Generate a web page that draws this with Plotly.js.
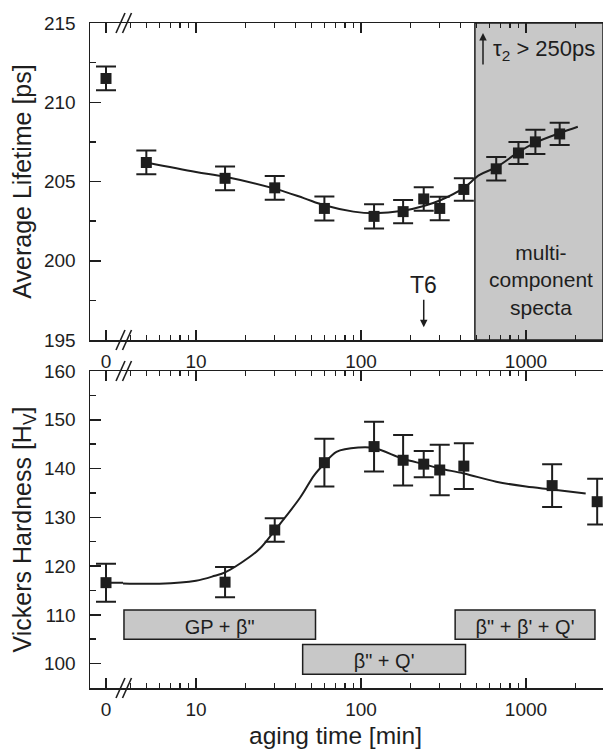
<!DOCTYPE html>
<html><head><meta charset="utf-8">
<script src="https://cdn.plot.ly/plotly-3.0.1.min.js"></script>
<style>html,body{margin:0;padding:0;background:#fff}#chart{width:605px;height:749px}</style>
</head><body><div id="chart"></div>
<script>
// ---------------- data ----------------
// Top panel: average positron lifetime [ps]
const lifeTimeZero = [0];
const lifeValZero  = [211.5];
const lifeErrZero  = [0.75];
const lifeTime = [5, 15, 30, 60, 120, 180, 240, 300, 420, 660, 900, 1140, 1600];
const lifeVal  = [206.2, 205.2, 204.6, 203.3, 202.8, 203.1, 203.9, 203.3, 204.5, 205.8, 206.8, 207.5, 208.0];
const lifeErr  = [0.75, 0.75, 0.75, 0.76, 0.77, 0.74, 0.74, 0.74, 0.71, 0.74, 0.70, 0.76, 0.70];
// guide-to-the-eye curve (top)
const lifeFitTime = [5, 10, 15, 30, 45, 60, 90, 120, 180, 240, 300, 420, 520, 660, 900, 1140, 1600, 2060];
const lifeFitVal  = [206.2, 205.6, 205.3, 204.55, 203.95, 203.5, 203.1, 203.0, 203.15, 203.45, 203.8, 204.6, 205.4, 205.9, 206.85, 207.45, 208.05, 208.45];

// Bottom panel: Vickers hardness [HV]
const hardTimeZero = [0];
const hardValZero  = [116.6];
const hardErrZero  = [3.9];
const hardTime = [15, 30, 60, 120, 180, 240, 300, 420, 1440, 2700];
const hardVal  = [116.7, 127.4, 141.2, 144.5, 141.7, 140.9, 139.7, 140.5, 136.5, 133.2];
const hardErr  = [3.1, 2.4, 4.9, 5.1, 5.2, 2.7, 5.2, 4.7, 4.4, 4.7];
// guide-to-the-eye curve (bottom); the flat part before the axis break
const hardFitZeroTime = [0, 2];
const hardFitZeroVal  = [116.6, 116.55];
const hardFitTime = [3, 6, 10, 13, 15, 21, 24.4, 30, 42.7, 52, 60, 71, 97, 120, 180, 240, 300, 420, 660, 1000, 1440, 2300];
const hardFitVal  = [116.5, 116.4, 117.0, 118.0, 118.7, 121.8, 123.6, 127.3, 134.0, 138.6, 141.0, 143.4, 144.3, 144.2, 142.0, 140.9, 140.0, 139.0, 137.3, 136.3, 135.7, 134.9];

// precipitation sequence boxes
const phaseLabels = ['GP + β"', 'β" + Q\'', 'β" + β\' + Q\''];
const phaseStart  = [3.66, 44.3, 372];
const phaseEnd    = [53, 430, 2618];
const phaseLow    = [105, 97.8, 105];
const phaseHigh   = [111, 103.9, 111];

const multiStart = 490;     // start of "multi-component spectra" region [min]
const t6Time = 240;         // T6 marker [min]

const zeroTickVals = [0];
const zeroTickText = ['0'];
const logTickVals = [10, 100, 1000];
const logTickText = ['10', '100', '1000'];
const lifeTicks = [195, 200, 205, 210, 215];
const hardTicks = [100, 110, 120, 130, 140, 150, 160];

// ---------------- layout helpers ----------------
const FONT = 'Liberation Sans, Arial, Helvetica, sans-serif';
const INK = '#1e1e1e';
const GRAY = '#c8c8c8';
const W = 605, H = 749, L = 90, R = 2, T = 23, B = 61;
const plotW = W - L - R, plotH = H - T - B;
const pxX = p => (p - L) / plotW;
const pxY = p => (H - B - p) / plotH;
const breakPx = 123;
const xSplit = pxX(breakPx);
const topDomain = [pxY(340), 1];
const botDomain = [0, pxY(371)];
const zeroRange = [-1, (breakPx - 106) / (106 - 90)];
const logRange = [1 + (breakPx - 196) / 165, 1 + (603 - 196) / 165];

const minorVals = [];
[1, 10, 100, 1000].forEach(d => { for (let k = 2; k <= 9; k++) minorVals.push(k * d); });

const tickFont = {family: FONT, size: 19, color: INK};
const xBase = {
  showgrid: false, zeroline: false, showline: true, linecolor: INK, linewidth: 1.5,
  ticks: 'inside', tickcolor: INK, tickwidth: 1.5, ticklen: 10, mirror: 'ticks',
  tickfont: tickFont, tickmode: 'array', automargin: false, fixedrange: true, ticklabelstandoff: 4
};
const zeroAx = (anchor) => Object.assign({}, xBase, {
  domain: [0, xSplit], range: zeroRange, tickvals: zeroTickVals, ticktext: zeroTickText, anchor: anchor
});
const logAx = (anchor) => Object.assign({}, xBase, {
  type: 'log', domain: [xSplit, 1], range: logRange, tickvals: logTickVals, ticktext: logTickText, anchor: anchor,
  minor: {tickmode: 'array', tickvals: minorVals, ticks: 'inside', ticklen: 5, tickcolor: INK, tickwidth: 1.5}
});
const yBase = {
  showgrid: false, zeroline: false, showline: true, linecolor: INK, linewidth: 1.5,
  ticks: 'inside', tickcolor: INK, tickwidth: 1.5, ticklen: 11, tickfont: tickFont,
  tickmode: 'array', automargin: false, fixedrange: true, ticklabelstandoff: 9
};
const titleFont = {family: FONT, size: 25, color: INK};

// ---------------- traces ----------------
const mk = {symbol: 'square', size: 11, color: INK};
const eb = (arr) => ({type: 'data', array: arr, visible: true, color: INK, thickness: 2, width: 10});
const traces = [
  {x: lifeFitTime, y: lifeFitVal, xaxis: 'x2', yaxis: 'y', mode: 'lines', line: {color: INK, width: 2, shape: 'spline', smoothing: 1}, hoverinfo: 'skip'},
  {x: lifeTimeZero, y: lifeValZero, xaxis: 'x', yaxis: 'y', mode: 'markers', marker: mk, error_y: eb(lifeErrZero)},
  {x: lifeTime, y: lifeVal, xaxis: 'x2', yaxis: 'y', mode: 'markers', marker: mk, error_y: eb(lifeErr)},
  {x: hardFitZeroTime, y: hardFitZeroVal, xaxis: 'x3', yaxis: 'y2', mode: 'lines', line: {color: INK, width: 2}, hoverinfo: 'skip'},
  {x: hardFitTime, y: hardFitVal, xaxis: 'x4', yaxis: 'y2', mode: 'lines', line: {color: INK, width: 2, shape: 'spline', smoothing: 1}, hoverinfo: 'skip'},
  {x: hardTimeZero, y: hardValZero, xaxis: 'x3', yaxis: 'y2', mode: 'markers', marker: mk, error_y: eb(hardErrZero)},
  {x: hardTime, y: hardVal, xaxis: 'x4', yaxis: 'y2', mode: 'markers', marker: mk, error_y: eb(hardErr)}
];

// ---------------- shapes ----------------
const shapes = [];
// multi-component region (top panel)
shapes.push({type: 'rect', xref: 'x2', yref: 'y domain', x0: multiStart, x1: Math.pow(10, logRange[1]), y0: 0, y1: 1,
  fillcolor: GRAY, line: {color: INK, width: 1.5}, layer: 'below'});
// phase boxes (bottom panel)
phaseLabels.forEach((lab, i) => {
  shapes.push({type: 'rect', xref: 'x4', yref: 'y2', x0: phaseStart[i], x1: phaseEnd[i], y0: phaseLow[i], y1: phaseHigh[i],
    fillcolor: GRAY, line: {color: INK, width: 1.5}, layer: 'below',
    label: {text: lab, font: {family: FONT, size: 20, color: INK}, textposition: 'middle center'}});
});
// axis-break marks "//"
[23, 340, 371, 688].forEach(py => {
  [120.5, 127].forEach(cx => {
    shapes.push({type: 'line', xref: 'paper', yref: 'paper',
      x0: pxX(cx - 4.5), y0: pxY(py + 10), x1: pxX(cx + 4.5), y1: pxY(py - 10),
      line: {color: INK, width: 1.6}});
  });
});

// ---------------- annotations ----------------
const annotations = [
  {xref: 'x2', yref: 'y', x: Math.log10(t6Time), y: 195.8, ax: 0, ay: -42, text: 'T6', showarrow: true,
   arrowhead: 2, arrowsize: 1, arrowwidth: 1.5, arrowcolor: INK, font: {family: FONT, size: 23, color: INK}},
  {xref: 'x2 domain', yref: 'paper', x: 0.75, y: pxY(33), ax: 0, ay: 33, text: '', showarrow: true,
   arrowhead: 2, arrowsize: 1, arrowwidth: 1.5, arrowcolor: INK},
  {xref: 'x2 domain', yref: 'paper', x: 0.766, y: pxY(50), xanchor: 'left', yanchor: 'middle', showarrow: false,
   text: 'τ<sub>2</sub> > 250ps', font: {family: FONT, size: 22, color: INK}},
  {xref: 'x2 domain', yref: 'paper', x: 0.871, y: pxY(280), xanchor: 'center', yanchor: 'middle', showarrow: false,
   text: 'multi-<br>component<br>specta', font: {family: FONT, size: 21, color: INK}},
  {xref: 'paper', yref: 'paper', x: pxX(335.5), y: pxY(735), xanchor: 'center', yanchor: 'middle', showarrow: false,
   text: 'aging time [min]', font: {family: FONT, size: 24.5, color: INK}, borderpad: 0}
];

const layout = {
  width: W, height: H, margin: {l: L, r: R, t: T, b: B, pad: 0},
  paper_bgcolor: '#fff', plot_bgcolor: 'rgba(0,0,0,0)', showlegend: false,
  font: {family: FONT, color: INK},
  xaxis: zeroAx('y'),
  xaxis2: logAx('y'),
  xaxis3: zeroAx('y2'),
  xaxis4: logAx('y2'),
  yaxis: Object.assign({}, yBase, {domain: topDomain, range: [195, 215], tickvals: lifeTicks, anchor: 'x', side: 'left',
    minor: {dtick: 2.5, ticks: 'inside', ticklen: 6, tickcolor: INK, tickwidth: 1.5},
    title: {text: 'Average Lifetime [ps]', font: titleFont, standoff: 5}}),
  yaxis3: Object.assign({}, yBase, {overlaying: 'y', range: [195, 215], tickvals: lifeTicks, anchor: 'x2', side: 'right', showticklabels: false,
    minor: {dtick: 2.5, ticks: 'inside', ticklen: 6, tickcolor: INK, tickwidth: 1.5}}),
  yaxis2: Object.assign({}, yBase, {domain: botDomain, range: [95, 160], tickvals: hardTicks, anchor: 'x3', side: 'left',
    minor: {dtick: 5, ticks: 'inside', ticklen: 6, tickcolor: INK, tickwidth: 1.5},
    title: {text: 'Vickers Hardness [H<sub>V</sub>]', font: titleFont, standoff: 5}}),
  yaxis4: Object.assign({}, yBase, {overlaying: 'y2', range: [95, 160], tickvals: hardTicks, anchor: 'x4', side: 'right', showticklabels: false,
    minor: {dtick: 5, ticks: 'inside', ticklen: 6, tickcolor: INK, tickwidth: 1.5}}),
  shapes: shapes,
  annotations: annotations
};

Plotly.newPlot('chart', traces, layout, {displayModeBar: false, staticPlot: true});
</script>
</body></html>
